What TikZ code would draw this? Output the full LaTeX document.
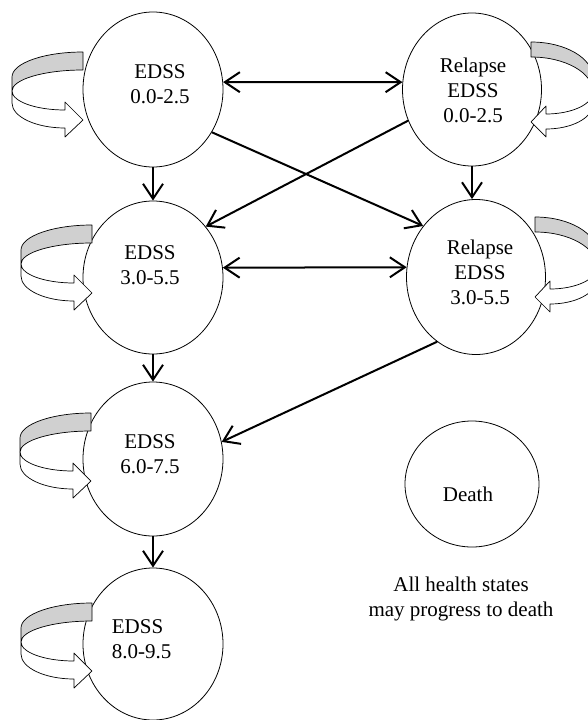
\documentclass[tikz,border=0pt]{standalone}
\usepackage{fontspec}
\setmainfont{Liberation Serif}
\usetikzlibrary{shapes.geometric,arrows.meta}
\definecolor{loopgray}{RGB}{208,208,208}
\begin{document}
\begin{tikzpicture}[x=1pt,y=1pt,
  state/.style={draw,ellipse,inner sep=0pt,line width=0.8pt,fill=white},
  lbl/.style={align=center,font=\fontsize{21}{25}\selectfont,inner sep=0pt},
  barbtip/.tip={Straight Barb[length=15pt,width=20pt]},
  conn/.style={line width=2pt,-barbtip},
  conn2/.style={line width=2pt,barbtip-barbtip},
  loopline/.style={line width=0.7pt,line join=round},
  lloop/.pic={
    \filldraw[loopline,fill=loopgray] (0,0) arc[start angle=90,end angle=180,x radius=71pt,y radius=25pt]
      -- (-71,-39) arc[start angle=180,end angle=90,x radius=71pt,y radius=21pt] -- cycle;
    \filldraw[loopline,fill=white] (-71,-39) -- (-71,-51)
      arc[start angle=180,end angle=270,x radius=53pt,y radius=25pt]
      -- (-18,-85) -- (0,-68) -- (-18,-50) -- (-18,-58)
      arc[start angle=270,end angle=180,x radius=53pt,y radius=19pt] -- cycle;
  },
  rloop/.pic={
    \filldraw[loopline,fill=loopgray] (0,0) arc[start angle=90,end angle=0,x radius=62pt,y radius=36pt]
      -- (62,-50) arc[start angle=0,end angle=90,x radius=62pt,y radius=35pt] -- cycle;
    \filldraw[loopline,fill=white] (62,-50) -- (62,-62)
      arc[start angle=0,end angle=-90,x radius=47pt,y radius=25pt]
      -- (15,-95) -- (0,-80) -- (15,-64) -- (15,-72)
      arc[start angle=-90,end angle=0,x radius=47pt,y radius=22pt] -- cycle;
  }
]
\fill[white] (0,0) rectangle (588,-720);
\useasboundingbox (0,0) rectangle (588,-720);

% states
\node[state,minimum width=140pt,minimum height=155pt] (e0) at (153,-89.5) {};
\node[state,minimum width=139pt,minimum height=153pt] (r0) at (472,-89.5) {};
\node[state,minimum width=140pt,minimum height=153pt] (e3) at (153,-277.5) {};
\node[state,minimum width=139pt,minimum height=155pt] (r3) at (476,-277) {};
\node[state,minimum width=140pt,minimum height=154pt] (e6) at (153,-459) {};
\node[state,minimum width=140pt,minimum height=152pt] (e8) at (153,-644) {};
\node[state,minimum width=134pt,minimum height=126pt] (death) at (472,-484) {};

% labels
\node[lbl] (e0t) at (160,-84.5) {EDSS\\0.0-2.5};
\node[lbl] (r0t) at (473,-90) {Relapse\\EDSS\\0.0-2.5};
\node[lbl] (e3t) at (150,-265) {EDSS\\3.0-5.5};
\node[lbl] (r3t) at (480,-272) {Relapse\\EDSS\\3.0-5.5};
\node[lbl] (e6t) at (150,-454.5) {EDSS\\6.0-7.5};
\node[lbl,align=left,anchor=west] (e8t) at (111.7,-639.5) {EDSS\\8.0-9.5};
\node[lbl] (deatht) at (468,-494) {Death};
\node[lbl] (note) at (461,-598.5) {All health states\\may progress to death};

% self loops
\pic at (83,-52) {lloop};
\pic at (92,-225) {lloop};
\pic at (91,-413) {lloop};
\pic at (92,-603) {lloop};
\pic at (531,-42) {rloop};
\pic at (535,-217) {rloop};

% transitions
\draw[conn2] (e0.6) -- (r0.174);
\draw[conn2] (e3.8) -- (r3.172);
\draw[conn] (e0.-36) -- (r3.136);
\draw[conn] (r0.206) -- (e3.44);
\draw[conn] (r3.239) -- (e6.14);
\draw[conn] (e0.south) -- (e3.north);
\draw[conn] (r0.south) -- (r3.north -| r0.south);
\draw[conn] (e3.south) -- (e6.north);
\draw[conn] (e6.south) -- (e8.north);
\end{tikzpicture}
\end{document}
